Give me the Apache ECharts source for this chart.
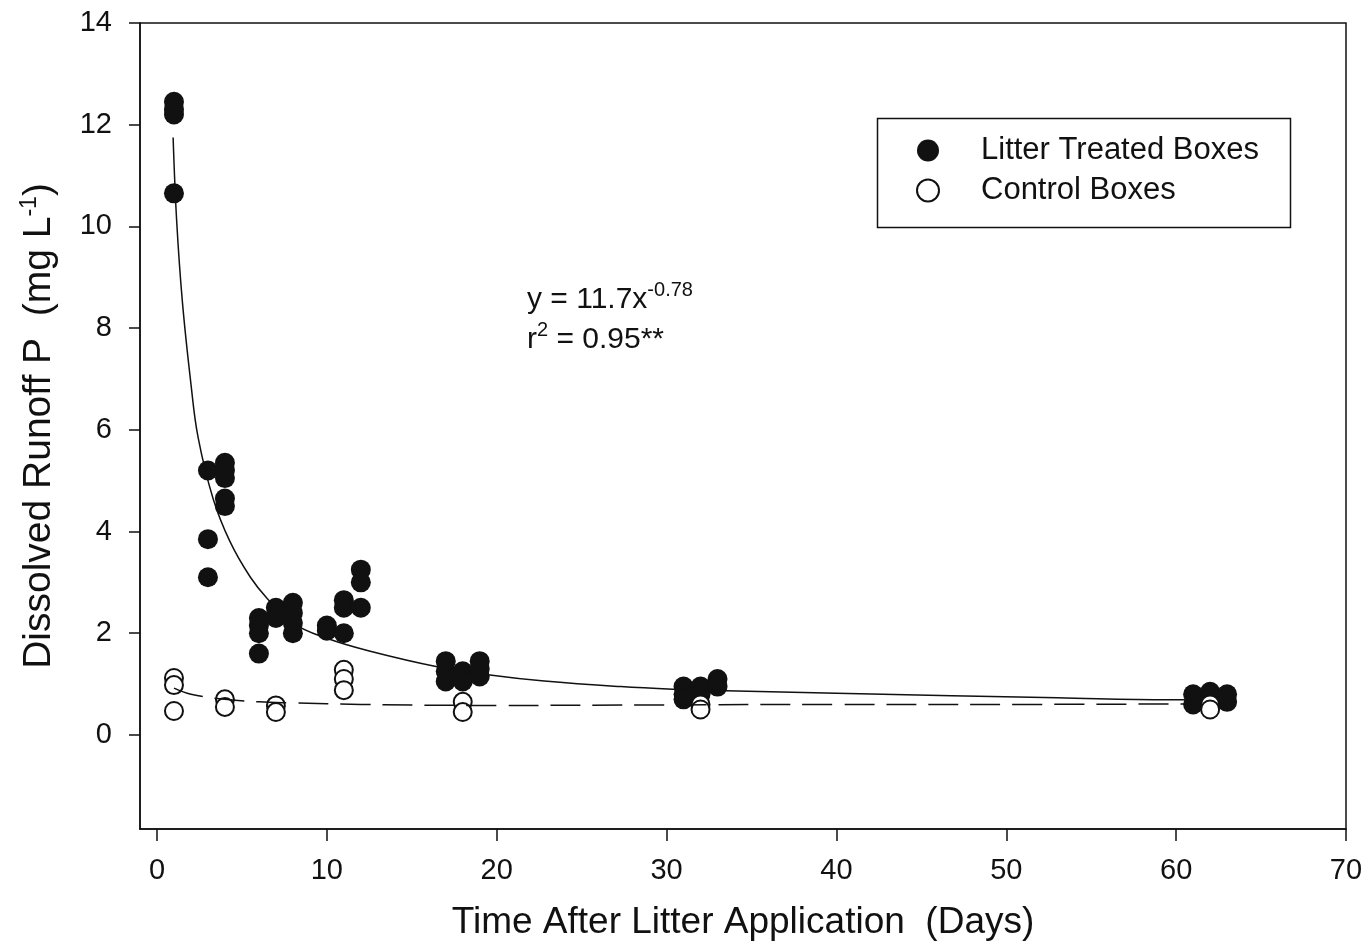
<!DOCTYPE html>
<html>
<head>
<meta charset="utf-8">
<script src="https://cdn.jsdelivr.net/npm/echarts@6/dist/echarts.min.js"></script>
<style>
html,body{margin:0;padding:0;background:#fff;}
#chart{width:1369px;height:947px;}
</style>
</head>
<body>
<div id="chart"></div>
<script>
// ---- data ----
var treatedDays   = [1,1,1,1, 3,3,3, 4,4,4,4,4, 6,6,6,6, 7,7,7, 8,8,8,8, 10,10, 11,11,11, 12,12,12, 17,17,17, 18,18,18, 19,19,19, 31,31,31, 32,32, 33,33, 61,61, 62,62, 63,63];
var treatedValues = [12.45,12.3,12.2,10.65, 5.2,3.85,3.1, 5.35,5.2,5.05,4.65,4.5, 2.3,2.15,2.0,1.6, 2.5,2.35,2.3, 2.6,2.4,2.2,2.0, 2.15,2.05, 2.65,2.5,2.0, 3.25,3.0,2.5, 1.45,1.25,1.05, 1.25,1.15,1.05, 1.45,1.3,1.15, 0.95,0.8,0.7, 0.95,0.8, 1.1,0.95, 0.8,0.6, 0.85,0.7, 0.8,0.65];
var controlDays   = [1,1,1, 4,4, 7,7, 11,11,11, 18,18, 32,32, 62,62];
var controlValues = [1.12,0.98,0.47, 0.7,0.55, 0.58,0.45, 1.28,1.1,0.88, 0.65,0.45, 0.6,0.5, 0.6,0.5];
// fitted curve (solid)
var fitDays   = [0.95,1.16,1.5,2,2.42,3.3,4.3,5.5,6.5,8,10,12.5,16.5,19.6,22.8,27.3,30.4,33.5,40,46.8,53,59.6,61];
var fitValues = [11.75,10.1,8.5,6.9,5.85,4.65,3.8,3.1,2.68,2.2,1.9,1.65,1.34,1.18,1.06,0.95,0.9,0.87,0.82,0.77,0.73,0.69,0.69];
// control trend (dashed)
var dashDays   = [1,2,4,6,8,12,20,30,40,50,61];
var dashValues = [0.92,0.8,0.7,0.65,0.63,0.6,0.58,0.59,0.6,0.6,0.61];
var xTicks = [0,10,20,30,40,50,60,70];
var yTicks = [0,2,4,6,8,10,12,14];

function pairs(xs, ys){ return xs.map(function(x,i){ return [x, ys[i]]; }); }

var FONT = '"Liberation Sans", Arial, sans-serif';
var INK = '#111';

var chart = echarts.init(document.getElementById('chart'));
chart.setOption({
  backgroundColor: '#fff',
  animation: false,
  textStyle: { fontFamily: FONT, color: INK },
  grid: { left: 140, right: 23, top: 23, bottom: 118, show: true, borderColor: INK, borderWidth: 1.5, backgroundColor: 'transparent' },
  xAxis: {
    type: 'value', min: -1, max: 70,
    name: 'Time After Litter Application  (Days)',
    nameLocation: 'middle', nameGap: 75,
    nameTextStyle: { fontSize: 37, color: INK, fontFamily: FONT },
    axisLine: { show: true, onZero: false, lineStyle: { color: INK, width: 1.5 } },
    axisTick: { show: true, length: 12, inside: false, lineStyle: { color: INK, width: 1.5 }, customValues: xTicks },
    axisLabel: { fontSize: 29, color: INK, margin: 27, fontFamily: FONT, customValues: xTicks },
    splitLine: { show: false }
  },
  yAxis: {
    type: 'value', min: -1.85, max: 14,
    name: '{t|Dissolved Runoff P  (mg L}{s|-1}{t|)}',
    nameLocation: 'middle', nameGap: 80,
    nameTextStyle: {
      fontSize: 39, color: INK, fontFamily: FONT,
      rich: {
        t: { fontSize: 39, color: INK, fontFamily: FONT, lineHeight: 42 },
        s: { fontSize: 23, color: INK, fontFamily: FONT, verticalAlign: 'top', lineHeight: 42 }
      }
    },
    axisLine: { show: true, onZero: false, lineStyle: { color: INK, width: 1.5 } },
    axisTick: { show: true, length: 11, inside: false, lineStyle: { color: INK, width: 1.5 }, customValues: yTicks },
    axisLabel: { fontSize: 29, color: INK, margin: 28, fontFamily: FONT, customValues: yTicks },
    splitLine: { show: false }
  },
  legend: {
    orient: 'vertical', left: 916, top: 135,
    itemWidth: 22, itemHeight: 22, itemGap: 9, padding: 0,
    data: ['Litter Treated Boxes', 'Control Boxes'],
    textStyle: { fontSize: 31, color: INK, fontFamily: FONT, padding: [0, 0, 0, 37] }
  },
  graphic: [
    { type: 'rect', left: 875, top: 116, shape: { width: 413, height: 109 }, style: { fill: 'none', stroke: INK, lineWidth: 1.5 }, z: 0 },
    { type: 'text', left: 527, top: 280, style: {
        text: '{m|y = 11.7x}{s|-0.78}\n{m|r}{s|2}{m| = 0.95**}',
        rich: {
          m: { fontSize: 30, fill: INK, fontFamily: FONT, lineHeight: 40 },
          s: { fontSize: 20, fill: INK, fontFamily: FONT, verticalAlign: 'top', lineHeight: 40 }
        }
      } }
  ],
  series: [
    {
      name: 'Litter Treated Boxes', type: 'scatter',
      data: pairs(treatedDays, treatedValues),
      symbol: 'circle', symbolSize: 20,
      itemStyle: { color: INK, opacity: 1 }, z: 2
    },
    {
      name: 'Control Boxes', type: 'scatter',
      data: pairs(controlDays, controlValues),
      symbol: 'circle', symbolSize: 18,
      itemStyle: { color: '#fff', borderColor: INK, borderWidth: 2, opacity: 1 }, z: 3
    },
    {
      name: 'fit', type: 'line', data: pairs(fitDays, fitValues),
      showSymbol: false, symbol: 'none', smooth: 0.4,
      lineStyle: { color: INK, width: 1.5 }, z: 4, silent: true
    },
    {
      name: 'controlFit', type: 'line', data: pairs(dashDays, dashValues),
      showSymbol: false, symbol: 'none', smooth: 0.4,
      lineStyle: { color: INK, width: 1.5, type: [30, 12] }, z: 4, silent: true
    }
  ]
});
</script>
</body>
</html>
